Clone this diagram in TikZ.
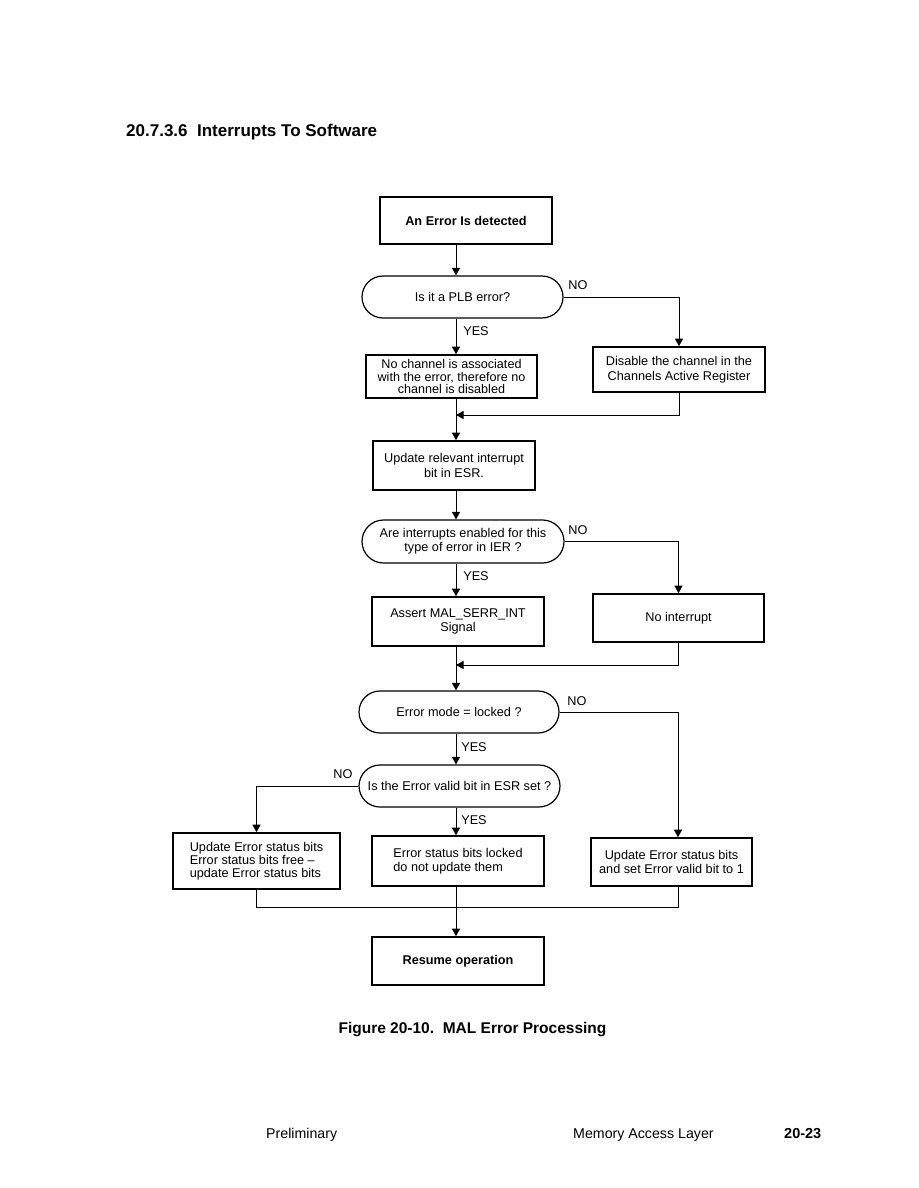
\documentclass[tikz,border=0pt]{standalone}
\usepackage{fontspec}
\setmainfont{Liberation Sans}
\usetikzlibrary{arrows.meta,shapes.misc}
\newcommand{\bodyfs}{\fontsize{12.7}{14.5}\selectfont}
\newcommand{\tightfs}{\fontsize{12.6}{12.6}\selectfont}
\tikzset{
  box/.style={draw, line width=1.6pt, inner sep=0pt, align=center, font=\bodyfs},
  dec/.style={draw, rounded rectangle, line width=1.2pt, inner sep=0pt, align=center, font=\bodyfs},
  conn/.style={line width=1pt},
  arr/.style={conn, -{Triangle[length=7.5pt,width=8pt]}},
  lbl/.style={font=\bodyfs, inner sep=0pt}
}
\begin{document}
\begin{tikzpicture}[x=1pt,y=-1pt]
\useasboundingbox (0,0) rectangle (918,1188);
% title, caption, footer
\node[anchor=base west, inner sep=0pt, font=\fontsize{17}{20}\selectfont\bfseries] (title) at (126,136.5) {20.7.3.6\ \ Interrupts To Software};
\node[anchor=base, inner sep=0pt, font=\fontsize{15.5}{18}\selectfont\bfseries] (caption) at (472.5,1033) {Figure 20-10.\ \ MAL Error Processing};
\node[anchor=base west, inner sep=0pt, font=\fontsize{14.2}{16}\selectfont] (prelim) at (266,1138) {Preliminary};
\node[anchor=base west, inner sep=0pt, font=\fontsize{14.2}{16}\selectfont] (mal) at (573,1138) {Memory Access Layer};
\node[anchor=base west, inner sep=0pt, font=\fontsize{14.5}{16}\selectfont\bfseries] (page) at (784,1138) {20-23};
% nodes
\node[box, minimum width=172pt, minimum height=47pt, font=\bodyfs\bfseries] (start) at (466,220.5) {An Error Is detected};
\node[dec, minimum width=201pt, minimum height=42pt] (d1) at (462.5,297) {Is it a PLB error?};
\node[box, minimum width=171pt, minimum height=43pt, font=\tightfs] (nochan) at (451.5,376.5) {No channel is associated\\with the error, therefore no\\channel is disabled};
\node[box, minimum width=172pt, minimum height=45pt, font=\fontsize{12.7}{15.5}\selectfont] (disable) at (679,369.5) {Disable the channel in the\\Channels Active Register};
\node[box, minimum width=162pt, minimum height=49pt] (upd) at (454,465.5) {Update relevant interrupt\\bit in ESR.};
\node[dec, minimum width=202pt, minimum height=43pt, font=\fontsize{12.7}{14}\selectfont] (d2) at (463,541.5) {Are interrupts enabled for this\\type of error in IER ?};
\node[box, minimum width=172pt, minimum height=49pt] (assert) at (458,621.5) {Assert MAL\_SERR\_INT\\Signal};
\node[box, minimum width=171pt, minimum height=48pt] (noint) at (678.5,618) {No interrupt};
\node[dec, minimum width=200pt, minimum height=42pt] (d3) at (459,712) {Error mode = locked ?};
\node[dec, minimum width=201pt, minimum height=42pt] (d4) at (459.5,786) {Is the Error valid bit in ESR set ?};
\node[box, minimum width=167pt, minimum height=56pt, align=left, font=\fontsize{12.7}{13}\selectfont] (left) at (256.5,861) {Update Error status bits\\Error status bits free --\\update Error status bits};
\node[box, minimum width=172pt, minimum height=50pt, align=left, font=\fontsize{12.7}{14}\selectfont] (mid) at (458,861) {Error status bits locked\\do not update them};
\node[box, minimum width=161pt, minimum height=48pt, font=\fontsize{12.7}{14}\selectfont] (right) at (671.5,862) {Update Error status bits\\and set Error valid bit to 1};
\node[box, minimum width=172pt, minimum height=48pt, font=\bodyfs\bfseries] (resume) at (458,961) {Resume operation};
% labels
\node[lbl] (no1) at (578,285) {NO};
\node[lbl] (yes1) at (476,331) {YES};
\node[lbl] (no2) at (578,530) {NO};
\node[lbl] (yes2) at (476,576) {YES};
\node[lbl] (no3) at (577,701) {NO};
\node[lbl] (yes3) at (474,747) {YES};
\node[lbl] (no4) at (343,774) {NO};
\node[lbl] (yes4) at (474,820) {YES};
% helper coordinates
\coordinate (sp) at (456,0);
\coordinate (rx) at (678,0);
\coordinate (m1) at (456,415);
\coordinate (m2) at (456,665);
\coordinate (j) at (456,907);
% connectors
\draw[arr] (start.south -| sp) -- (d1.north -| sp);
\draw[arr] (d1.east) -| (disable.north);
\draw[arr] (d1.south -| sp) -- (nochan.north -| sp);
\draw[arr] (disable.south) |- (m1);
\draw[arr] (nochan.south -| sp) -- (upd.north -| sp);
\draw[arr] (upd.south -| sp) -- (d2.north -| sp);
\draw[arr] (d2.east) -| (noint.north);
\draw[arr] (d2.south -| sp) -- (assert.north -| sp);
\draw[arr] (noint.south) |- (m2);
\draw[arr] (assert.south -| sp) -- (d3.north -| sp);
\draw[arr] (d3.east) -| (right.north -| rx);
\draw[arr] (d3.south -| sp) -- (d4.north -| sp);
\draw[arr] (d4.west) -| (left.north);
\draw[arr] (d4.south -| sp) -- (mid.north -| sp);
\draw[conn] (left.south) -- (left.south |- j) -- (j -| rx) -- (right.south -| rx);
\draw[arr] (mid.south -| sp) -- (resume.north -| sp);
\end{tikzpicture}
\end{document}
